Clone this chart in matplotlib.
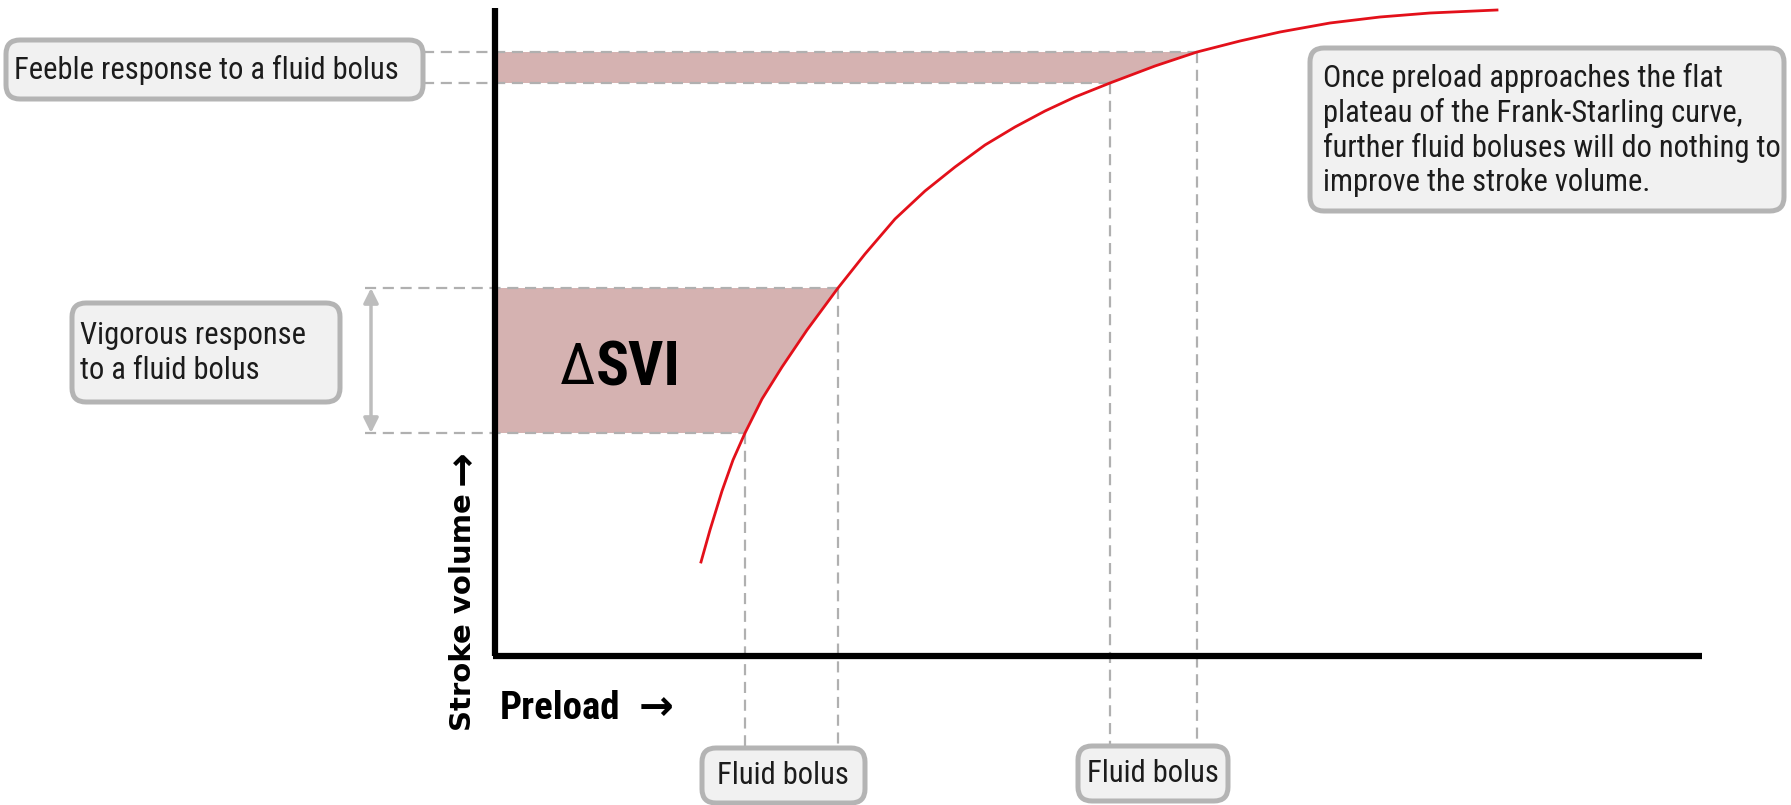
import numpy as np
import matplotlib
matplotlib.use("Agg")
import matplotlib.pyplot as plt
from matplotlib.patches import FancyBboxPatch, Rectangle, Polygon

# Frank-Starling curve (arbitrary units, origin at axis corner)
preload = [206, 215, 227, 238, 250, 267, 287, 312, 343, 370, 400, 430, 460, 490, 520,
           550, 580, 615, 660, 702, 745, 785, 835, 885, 935, 1002]
stroke_volume = [94, 126, 165, 196, 223, 257, 289, 326, 368, 402, 437, 465, 489, 511, 529,
                 545, 559, 573, 590, 604, 615, 624, 633, 639, 643, 646]

# fluid boluses: preload before/after and the matching stroke volumes
steep_bolus = [250, 343]
steep_sv = [223, 368]
flat_bolus = [615, 702]
flat_sv = [573, 604]

narrow = ["Roboto Condensed", "DejaVu Sans"]
text_col = "#1c1c1c"
dash_col = "#b0b0b0"
band_col = "#d5b2b1"
box_face = "#f1f1f1"
box_edge = "#b4b4b4"

fig = plt.figure(figsize=(17.91, 8.05), dpi=100)
ax = fig.add_axes([0, 0, 1, 1])
ax.set_xlim(-495, 1296)
ax.set_ylim(-149, 656)
ax.axis("off")

# region left of the curve, used to clip the shaded bands
left_region = Polygon([(0, stroke_volume[0])] + list(zip(preload, stroke_volume))
                      + [(preload[-1], 700), (0, 700)], closed=True,
                      transform=ax.transData, facecolor="none", edgecolor="none")

for sv in (steep_sv, flat_sv):
    band = Rectangle((0, sv[0]), preload[-1], sv[1] - sv[0], facecolor=band_col,
                     edgecolor="none", zorder=1)
    ax.add_patch(band)
    band.set_clip_path(left_region)

# dashed guide lines
dash_kw = dict(color=dash_col, lw=1.6, dashes=(5, 3), zorder=2)
for bolus, sv, x_left in ((steep_bolus, steep_sv, -130), (flat_bolus, flat_sv, -72)):
    ax.plot([x_left, bolus[0]], [sv[0], sv[0]], **dash_kw)
    ax.plot([x_left, bolus[1]], [sv[1], sv[1]], **dash_kw)
    ax.plot([bolus[0], bolus[0]], [sv[0], -92], **dash_kw)
    ax.plot([bolus[1], bolus[1]], [sv[1], -92], **dash_kw)

# curve
ax.plot(preload, stroke_volume, color="#e3101a", lw=2, zorder=4, solid_joinstyle="round")

# axes
ax.plot([0, 0], [0, 648], color="black", lw=4.5, solid_capstyle="butt", zorder=5)
ax.plot([-2, 1207], [0, 0], color="black", lw=4.5, solid_capstyle="butt", zorder=5)

# double arrow for vigorous response
ax.annotate("", xy=(-124, steep_sv[0]), xytext=(-124, steep_sv[1]),
            arrowprops=dict(arrowstyle="<|-|>", color="#bdbdbd", lw=2.5,
                            mutation_scale=22, shrinkA=0, shrinkB=0))


def box(x0, y0, w, h):
    ax.add_patch(FancyBboxPatch((x0, y0), w, h, boxstyle="round,pad=0,rounding_size=14",
                                facecolor=box_face, edgecolor=box_edge, lw=3.6, zorder=6,
                                clip_on=False))


box(-489, 557, 417, 59)
ax.text(-481, 586, "Feeble response to a fluid bolus", family=narrow, fontsize=22,
        color=text_col, ha="left", va="center", zorder=7)

box(-423, 254, 268, 99)
ax.text(-415, 303, "Vigorous response\nto a fluid bolus", family=narrow, fontsize=22,
        color=text_col, ha="left", va="center", linespacing=1.3, zorder=7)

box(815, 445, 474, 163)
ax.text(828, 526, "Once preload approaches the flat\nplateau of the Frank-Starling curve,\n"
        "further fluid boluses will do nothing to\nimprove the stroke volume.",
        family=narrow, fontsize=22, color=text_col, ha="left", va="center",
        linespacing=1.22, zorder=7)

box(207, -147, 163, 55)
ax.text(288, -119, "Fluid bolus", family=narrow, fontsize=22, color=text_col,
        ha="center", va="center", zorder=7)
box(583, -145, 150, 55)
ax.text(658, -117, "Fluid bolus", family=narrow, fontsize=22, color=text_col,
        ha="center", va="center", zorder=7)

# delta SVI label
ax.text(101, 288, "\u0394", family=narrow, fontsize=42, color="black",
        ha="right", va="center", zorder=7)
ax.text(101, 288, "SVI", family=narrow, fontsize=44, fontweight="bold", color="black",
        ha="left", va="center", zorder=7)

# axis labels
ax.text(-32, 44, "Stroke volume", family="DejaVu Sans", fontsize=21,
        fontweight="bold", color="black", rotation=90, ha="center", va="center")
ax.text(-32, 188, "\u2192", family="DejaVu Sans", fontsize=30, fontweight="bold",
        color="black", rotation=90, ha="center", va="center")
ax.text(5, -52, "Preload", family=narrow, fontsize=28, fontweight="bold",
        color="black", ha="left", va="center")
ax.text(161, -52, "\u2192", family="DejaVu Sans", fontsize=30, fontweight="bold",
        color="black", ha="center", va="center")

fig.savefig("out.png", dpi=100)
